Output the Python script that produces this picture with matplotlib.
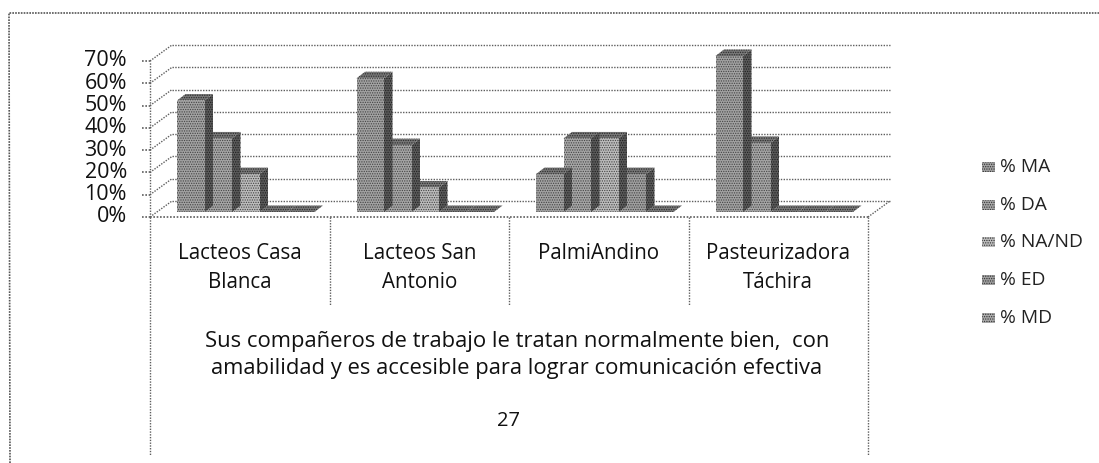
import matplotlib
matplotlib.use('Agg')
import matplotlib.pyplot as plt
from matplotlib.patches import Polygon, Rectangle

categories = ['Lacteos Casa\nBlanca', 'Lacteos San\nAntonio', 'PalmiAndino', 'Pasteurizadora\nTáchira']
series_names = ['% MA', '% DA', '% NA/ND', '% ED', '% MD']
ma = [50, 60, 17, 70]
da = [33, 30, 33, 31]
na_nd = [17, 11, 33, 0]
ed = [0, 0, 17, 0]
md = [0, 0, 0, 0]
ticks = [0, 10, 20, 30, 40, 50, 60, 70]
question = 'Sus compañeros de trabajo le tratan normalmente bien,  con\namabilidad y es accesible para lograr comunicación efectiva'
page = '27'

W, H = 1099, 463
plt.rcParams['font.family'] = ['Open Sans', 'DejaVu Sans']
plt.rcParams['hatch.linewidth'] = 0.6

fig = plt.figure(figsize=(W / 100, H / 100), dpi=100)
# front plane of the 3d box, in pixels: x 150-868, y 61-217
ax = fig.add_axes([150 / W, 1 - 217 / H, 718 / W, 156 / H])
ax.set_xlim(0, 4)
ax.set_ylim(0, 70)
ax.axis('off')

# pixel size of one data unit
ux = 4 / 718
uy = 70 / 156
depth_x = 22 * ux
depth_y = 16 * uy
line_col = '#5e5e5e'


def dotted(xs, ys, lw=1.0):
    ax.plot(xs, ys, color=line_col, lw=lw, ls=(0, (1, 1)), clip_on=False, zorder=1)


# walls and grid
for t in ticks:
    dotted([0, depth_x], [t, t + depth_y])
    dotted([depth_x, 4 + depth_x], [t + depth_y, t + depth_y])
    dotted([-8 * ux, 0], [t, t], lw=1.2)
dotted([0, 0], [0, 70])
dotted([0, 4], [0, 0], lw=1.2)
dotted([4, 4 + depth_x], [0, depth_y])

# bars, drawn from the back series forward so that the steps overlap
all_series = [ma, da, na_nd, ed, md]
bar_w = 27.5 * ux
gap = 22 * ux
off_x = 5 * ux
off_y = 5 * uy
side_x = 8.5 * ux
side_y = 6.5 * uy
fronts = ['#a2a2a2', '#a6a6a6', '#bcbcbc', '#a0a0a0', '#aaaaaa']
for s in range(4, -1, -1):
    z = 3 + (4 - s) * 0.1
    left = [c + gap + s * bar_w + off_x for c in range(4)]
    bars = ax.bar(left, all_series[s], width=bar_w, bottom=off_y, align='edge',
                  color=fronts[s], hatch='.......', edgecolor='#444444', linewidth=0, zorder=z)
    for b in bars:
        b.set_clip_on(False)
    for x, v in zip(left, all_series[s]):
        top = v + off_y
        ax.add_patch(Polygon([(x + bar_w, off_y), (x + bar_w + side_x, off_y + side_y),
                              (x + bar_w + side_x, top + side_y), (x + bar_w, top)],
                             facecolor='#5a5a5a', hatch='.......', edgecolor='#1e1e1e', lw=0,
                             zorder=z - 0.05, clip_on=False))
        ax.add_patch(Polygon([(x, top), (x + side_x, top + side_y),
                              (x + bar_w + side_x, top + side_y), (x + bar_w, top)],
                             facecolor='#777777', hatch='.......', edgecolor='#2a2a2a', lw=0,
                             zorder=z - 0.02, clip_on=False))

for t in ticks:
    ax.text(-23 * ux, t, f'{t}%', ha='right', va='center', fontsize=15.5, color='#111111', clip_on=False)

# table under the chart
for i in range(5):
    end = 455 if i in (0, 4) else 305
    dotted([i, i], [0, -(end - 217) * uy])
for i, name in enumerate(categories):
    ax.text(i + 0.5, -(243 - 217) * uy, name, ha='center', va='top', fontsize=14.8,
            color='#111111', linespacing=1.53, clip_on=False)
ax.text(2 + 8 * ux, -(355 - 217) * uy, question, ha='center', va='center', fontsize=15.8,
        color='#111111', linespacing=1.33, clip_on=False)
ax.text(2, -(421 - 217) * uy, page, ha='center', va='center', fontsize=14.5, color='#111111', clip_on=False)

# legend
for name, fc, y in zip(series_names, fronts, [167, 205, 242, 280, 318]):
    fig.add_artist(Rectangle((982 / W, 1 - (y + 5) / H), 13 / W, 10 / H, transform=fig.transFigure,
                             facecolor=fc, hatch='.......', edgecolor='#333333', lw=0))
    fig.text(1000 / W, 1 - y / H, name, ha='left', va='center', fontsize=13.8, color='#222222')

# outer frame, left and top only
frame = fig.add_axes([0, 0, 1, 1], facecolor='none')
frame.set_xlim(0, W)
frame.set_ylim(H, 0)
frame.axis('off')
frame.plot([10, 9, W], [H, 13, 13], color='#555555', lw=1.2, ls=(0, (1, 0.7)))

fig.savefig('out.png', dpi=100)
